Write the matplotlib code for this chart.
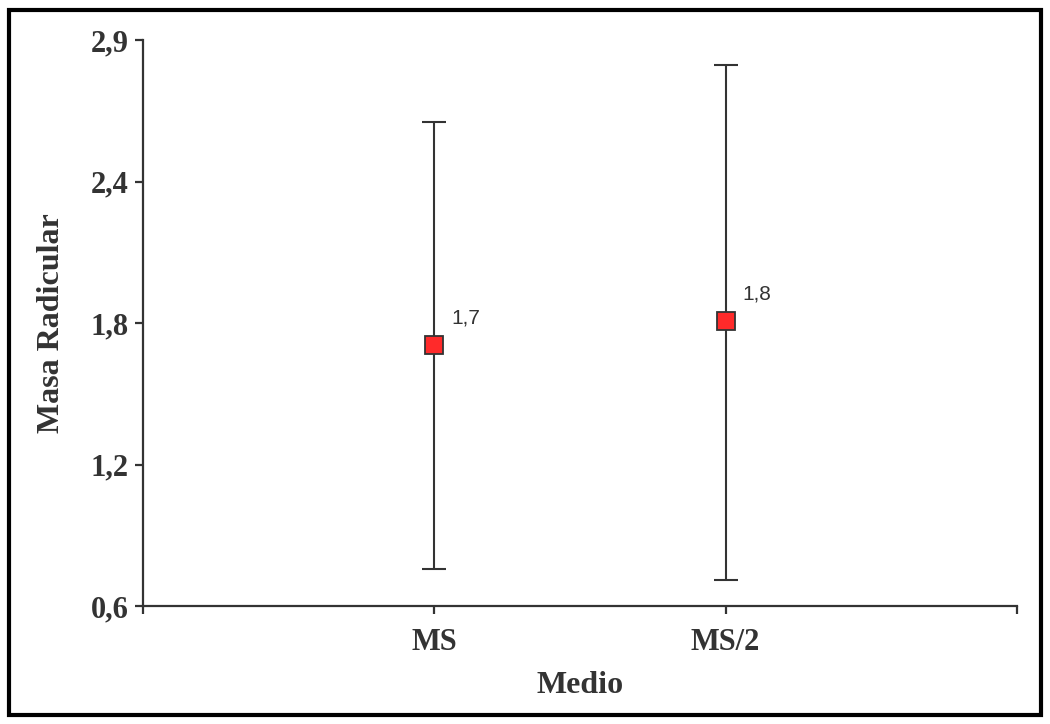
import numpy as np
import matplotlib
matplotlib.use('Agg')
from matplotlib import pyplot as plt
from matplotlib.patches import Rectangle

# data
medios = ['MS', 'MS/2']
means = [1.68, 1.78]
mean_labels = ['1,7', '1,8']
upper = [2.60, 2.835]
lower = [0.754, 0.706]
ytick_labels = ['0,6', '1,2', '1,8', '2,4', '2,9']

GRAY = '#333333'
serif = ['Liberation Serif', 'DejaVu Serif']

fig = plt.figure(figsize=(10.5, 7.24), dpi=100)
ax = fig.add_axes([0.136, 0.163, 0.8326, 0.7817])

x = np.arange(1, len(medios) + 1)
means_a = np.array(means)
err = [means_a - np.array(lower), np.array(upper) - means_a]
ax.errorbar(x, means, yerr=err, fmt='none', ecolor=GRAY, elinewidth=1.5,
            capsize=8.3, capthick=1.5, zorder=2)
ax.plot(x, means, 's', color='#ff2a2a', markeredgecolor=GRAY,
        markeredgewidth=1.3, markersize=13, zorder=3)
for xi, yi, lab in zip(x, means, mean_labels):
    ax.annotate(lab, (xi, yi), xytext=(12, 19), textcoords='offset points',
                fontsize=15, color=GRAY, family=['Liberation Sans', 'DejaVu Sans'],
                ha='left', va='center')

ax.set_xlim(0, 3)
ax.set_ylim(0.6, 2.94)
ax.set_xticks([0, 1, 2, 3])
ax.set_xticklabels(['', medios[0], medios[1], ''])
ax.set_yticks(np.linspace(0.6, 2.94, 5))
ax.set_yticklabels(ytick_labels)

for s in ['top', 'right']:
    ax.spines[s].set_visible(False)
for s in ['left', 'bottom']:
    ax.spines[s].set_color(GRAY)
    ax.spines[s].set_linewidth(1.6)
ax.tick_params(direction='out', length=6, width=1.6, color=GRAY,
               labelcolor=GRAY, labelsize=22, pad=4)
ax.tick_params(axis='x', pad=10)
for lab in ax.get_xticklabels() + ax.get_yticklabels():
    lab.set_family(serif)
    lab.set_fontweight('bold')

ax.set_xlabel('Medio', fontsize=23, fontweight='bold', color=GRAY,
              family=serif, labelpad=10)
ax.set_ylabel('Masa Radicular', fontsize=23, fontweight='bold', color=GRAY,
              family=serif, labelpad=18)

# frame around the whole picture
fig.patches.append(Rectangle((0.0086, 0.012), 0.9829, 0.9737, transform=fig.transFigure,
                             fill=False, edgecolor='black', linewidth=3))

fig.savefig('out.png', dpi=100)
